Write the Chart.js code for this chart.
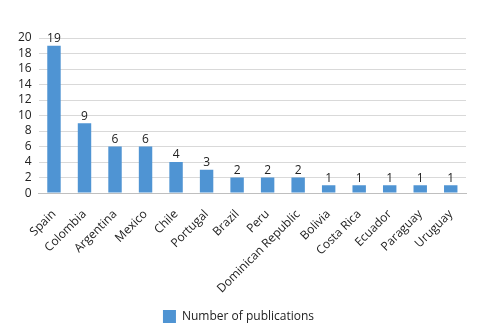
<!DOCTYPE html>
<html><head><meta charset="utf-8">
<script src="https://cdn.jsdelivr.net/npm/chart.js@4/dist/chart.umd.min.js"></script>
<style>html,body{margin:0;padding:0;background:#fff}#wrap{width:479px;height:334px}</style>
</head><body><div id="wrap"><canvas id="c" width="479" height="334"></canvas></div>
<script>
const categories = ["Spain","Colombia","Argentina","Mexico","Chile","Portugal","Brazil","Peru","Dominican Republic","Bolivia","Costa Rica","Ecuador","Paraguay","Uruguay"];
const publications = [19,9,6,6,4,3,2,2,2,1,1,1,1,1];
const yTicks = [0,2,4,6,8,10,12,14,16,18,20];
const FONT = "'Open Sans', 'Noto Sans', sans-serif";
const valueLabels = {
  id:'valueLabels',
  afterDatasetsDraw(chart){
    const ctx = chart.ctx;
    const meta = chart.getDatasetMeta(0);
    ctx.save();
    ctx.font = "12px " + FONT;
    ctx.fillStyle = "#222";
    ctx.textAlign = "center";
    ctx.textBaseline = "bottom";
    meta.data.forEach((bar,i)=>{
      ctx.fillText(String(chart.data.datasets[0].data[i]), bar.x, bar.y - 1);
    });
    ctx.restore();
  }
};
new Chart(document.getElementById('c'),{
  type:'bar',
  data:{labels:categories,datasets:[{label:'Number of publications',data:publications,backgroundColor:'#4f94d3',barPercentage:0.88,categoryPercentage:0.5}]},
  options:{
    responsive:false,animation:false,
    layout:{padding:{left:11,right:13,top:38,bottom:1}},
    plugins:{
      legend:{position:'bottom',labels:{font:{family:FONT,size:12},color:'#222',boxWidth:13,boxHeight:13,padding:8}},
      tooltip:{enabled:false}
    },
    scales:{
      x:{grid:{display:false},border:{color:'#bfbfbf'},ticks:{minRotation:45,maxRotation:45,autoSkip:false,font:{family:FONT,size:12},color:'#222',padding:6}},
      y:{min:0,max:20,afterBuildTicks(ax){ax.ticks=yTicks.map(v=>({value:v}));},grid:{color:'#d9d9d9',drawTicks:false},border:{display:false},ticks:{autoSkip:false,font:{family:FONT,size:12},color:'#222',padding:7}}
    }
  },
  plugins:[valueLabels]
});
</script></body></html>
